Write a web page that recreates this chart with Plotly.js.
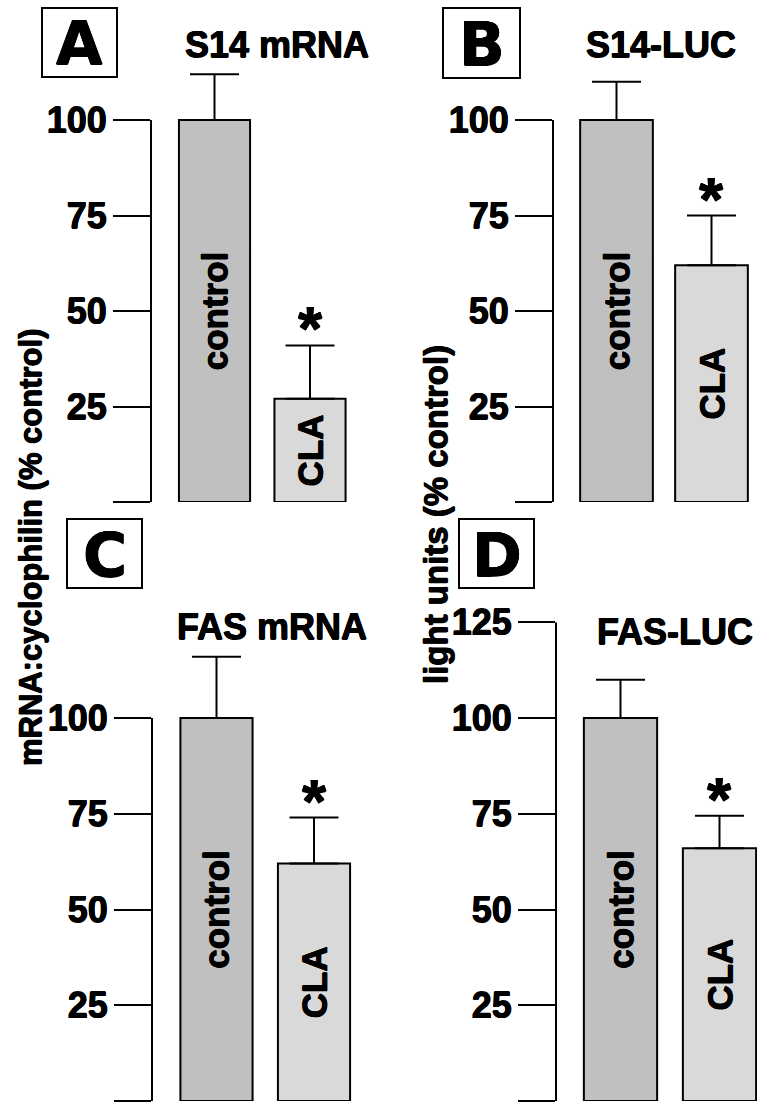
<!DOCTYPE html>
<html>
<head>
<meta charset="utf-8">
<script src="https://cdn.plot.ly/plotly-3.0.1.min.js"></script>
<style>html,body{margin:0;padding:0;background:#fff;}#chart{width:757px;height:1105px;}</style>
</head>
<body>
<div id="chart"></div>
<script>
// ---- data ----
const categories = ["control", "CLA"];
const s14mRNA = [100, 27];
const s14mRNAErr = [12, 14];
const s14LUC = [100, 62];
const s14LUCErr = [10, 13];
const fasMRNA = [100, 62];
const fasMRNAErr = [16, 12];
const fasLUC = [100, 66];
const fasLUCErr = [10, 8.5];
const panelLetters = ["A", "B", "C", "D"];
const panelTitles = ["S14 mRNA", "S14-LUC", "FAS mRNA", "FAS-LUC"];
const tickVals = [0, 25, 50, 75, 100, 125];
const tickText = ["", "25", "50", "75", "100", "125"];
const yTitleLeft = "mRNA:cyclophilin (% control)";
const yTitleRight = "light units (% control)";
const sigMark = "*";

// ---- layout helpers ----
const W = 757, H = 1105;
const FONT = "Liberation Sans, Arial, Helvetica, sans-serif";
const HEAVY = "0.5px 0 0 #000, -0.5px 0 0 #000, 0 0.5px 0 #000, 0 -0.5px 0 #000";
const px = v => v / W;
const py = v => 1 - v / H;
const barColors = ["#c0c0c0", "#d9d9d9"];
const RANGE_MAX = 125;

const panels = [
  {vals: s14mRNA, err: s14mRNAErr, ax: 151, c0: 214.5, c1: 310, right: 360, y0: 502, y100: 120, lineMax: 100, bw: 0.745},
  {vals: s14LUC, err: s14LUCErr, ax: 553, c0: 616.5, c1: 711.5, right: 757, y0: 502, y100: 120, lineMax: 100, bw: 0.765},
  {vals: fasMRNA, err: fasMRNAErr, ax: 152, c0: 216.5, c1: 314, right: 370, y0: 1101, y100: 718, lineMax: 100, bw: 0.74},
  {vals: fasLUC, err: fasLUCErr, ax: 556, c0: 620.5, c1: 719.5, right: 757, y0: 1101, y100: 718, lineMax: 125, bw: 0.74}
];

const titlePos = [[277, 45], [661, 45], [272, 626], [675, 631]];
const boxPos = [[42, 8, 117, 77], [443, 8, 520, 78], [67, 519, 142, 588], [459, 519, 534, 588]];

const data = [];
const layout = {
  width: W, height: H,
  margin: {l: 0, r: 0, t: 0, b: 0},
  paper_bgcolor: "#fff", plot_bgcolor: "rgba(0,0,0,0)",
  showlegend: false,
  font: {family: FONT, color: "#000"},
  annotations: [], shapes: []
};

panels.forEach((p, i) => {
  const n = i + 1;
  const xa = "x" + (n === 1 ? "" : n), ya = "y" + (n === 1 ? "" : n);
  const xk = "xaxis" + (n === 1 ? "" : n), yk = "yaxis" + (n === 1 ? "" : n);
  const sp = p.c1 - p.c0;
  const pxPerUnit = (p.y0 - p.y100) / 100;
  const yTop = p.y0 - RANGE_MAX * pxPerUnit;

  data.push({
    type: "bar", x: categories, y: p.vals, xaxis: xa, yaxis: ya,
    width: p.bw,
    marker: {color: barColors, line: {color: "#000", width: 2}},
    error_y: {type: "data", symmetric: false, array: p.err, arrayminus: [0, 0],
              color: "#000", thickness: 2, width: 24.5},
    text: categories.map(c => "<b>" + c + "</b>"), textposition: "inside", insidetextanchor: "middle",
    textangle: -90, constraintext: "none",
    textfont: {family: FONT, size: 35, color: "#000", weight: "bold", shadow: HEAVY},
    cliponaxis: false, hoverinfo: "skip"
  });

  layout[xk] = {
    domain: [px(p.ax), px(p.right)], anchor: ya,
    range: [-(p.c0 - p.ax) / sp, 1 + (p.right - p.c1) / sp],
    type: "category", visible: false, fixedrange: true
  };
  const tv = tickVals.filter(v => v <= p.lineMax);
  layout[yk] = {
    domain: [py(p.y0), py(yTop)], anchor: xa,
    range: [0, RANGE_MAX], showgrid: false, zeroline: false,
    showline: false,
    ticks: "outside", ticklen: 37, tickwidth: 2, tickcolor: "#000",
    tickvals: tv, ticktext: tv.map(v => "<b>" + tickText[tickVals.indexOf(v)] + "</b>"),
    tickfont: {family: FONT, size: 36, color: "#000", weight: "bold", shadow: HEAVY},
    ticklabelstandoff: -1, fixedrange: true
  };

  // y axis line from 0 to top tick
  layout.shapes.push({
    type: "line", xref: xa + " domain", yref: ya, x0: 0, x1: 0, y0: 0, y1: p.lineMax,
    line: {color: "#000", width: 2}
  });

  // significance asterisk over CLA bar
  layout.annotations.push({
    xref: xa, yref: ya, x: categories[1], y: p.vals[1] + p.err[1],
    text: "<b>" + sigMark + "</b>", showarrow: false, yanchor: "bottom", yshift: -19,
    font: {family: FONT, size: 62, color: "#000", weight: "bold", shadow: HEAVY}
  });

  // panel title
  layout.annotations.push({
    xref: "paper", yref: "paper", x: px(titlePos[i][0]), y: py(titlePos[i][1]),
    xanchor: "center", yanchor: "middle", text: "<b>" + panelTitles[i] + "</b>", showarrow: false,
    font: {family: FONT, size: 36, color: "#000", weight: "bold", shadow: HEAVY}
  });

  // panel letter box
  const b = boxPos[i];
  layout.shapes.push({
    type: "rect", xref: "paper", yref: "paper",
    x0: px(b[0]), x1: px(b[2]), y0: py(b[3]), y1: py(b[1]),
    line: {color: "#000", width: 2}, fillcolor: "rgba(0,0,0,0)"
  });
  layout.annotations.push({
    xref: "paper", yref: "paper", x: px((b[0] + b[2]) / 2), y: py((b[1] + b[3]) / 2 + 1),
    xanchor: "center", yanchor: "middle", text: "<b>" + panelLetters[i] + "</b>", showarrow: false,
    font: {family: "DejaVu Sans, Liberation Sans, sans-serif", size: 60, color: "#000", weight: "bold", shadow: HEAVY}
  });
});

// y axis titles
layout.annotations.push({
  xref: "paper", yref: "paper", x: px(30), y: py(548), textangle: -90,
  xanchor: "center", yanchor: "middle", text: "<b>" + yTitleLeft + "</b>", showarrow: false,
  font: {family: FONT, size: 31, color: "#000", weight: "bold", shadow: HEAVY}
});
layout.annotations.push({
  xref: "paper", yref: "paper", x: px(435), y: py(515), textangle: -90,
  xanchor: "center", yanchor: "middle", text: "<b>" + yTitleRight + "</b>", showarrow: false,
  font: {family: FONT, size: 33, color: "#000", weight: "bold", shadow: HEAVY}
});

Plotly.newPlot("chart", data, layout, {displayModeBar: false, staticPlot: true});
</script>
</body>
</html>
